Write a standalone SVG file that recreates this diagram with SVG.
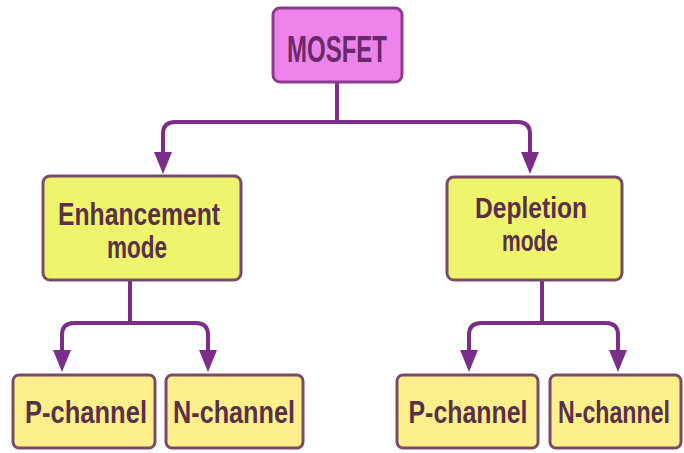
<svg xmlns="http://www.w3.org/2000/svg" width="684" height="453" viewBox="0 0 684 453">
<style>
.bg{fill:#ffffff}
.top{fill:#ec84ec;stroke:#8c3c8c;stroke-width:3}
.mid{fill:#eef46c;stroke:#7a4a6a;stroke-width:3}
.leaf{fill:#fdf08c;stroke:#7a4a6a;stroke-width:3}
.t{font-family:"Liberation Sans",Arial,sans-serif;font-weight:bold;text-anchor:middle;fill:#5a3048}
.tt{fill:#6a2a6a}
.c{fill:none;stroke:#7a2e8a;stroke-width:4}
</style>
<defs>
<marker id="ah" viewBox="0 -10 24 20" markerWidth="24" markerHeight="20" refX="2" refY="0" orient="auto" markerUnits="userSpaceOnUse">
<path d="M0,-9 L22,0 L0,9 z" fill="#7a2e8a"/>
</marker>
</defs>
<rect class="bg" x="0" y="0" width="684" height="453"/>
<g id="connectors">
<path class="c" d="M337,82 V122"/>
<path class="c" d="M339,122 H175 Q163,122 163,134 V154" marker-end="url(#ah)"/>
<path class="c" d="M335,122 H518 Q530,122 530,134 V154" marker-end="url(#ah)"/>
<path class="c" d="M130,280 V323"/>
<path class="c" d="M132,323 H74 Q62,323 62,335 V352" marker-end="url(#ah)"/>
<path class="c" d="M128,323 H196 Q208,323 208,335 V352" marker-end="url(#ah)"/>
<path class="c" d="M542,280 V323"/>
<path class="c" d="M544,323 H481 Q469,323 469,335 V352" marker-end="url(#ah)"/>
<path class="c" d="M540,323 H606 Q618,323 618,335 V352" marker-end="url(#ah)"/>
</g>
<g id="mosfet">
<rect class="top" x="273" y="8" width="129" height="74" rx="7"/>
<text class="t tt" x="337" y="62" font-size="36" textLength="100" lengthAdjust="spacingAndGlyphs">MOSFET</text>
</g>
<g id="enhancement">
<rect class="mid" x="43" y="176" width="198" height="104" rx="7"/>
<text class="t" x="139" y="225" font-size="32" textLength="162" lengthAdjust="spacingAndGlyphs">Enhancement</text>
<text class="t" x="137" y="258" font-size="32" textLength="60" lengthAdjust="spacingAndGlyphs">mode</text>
</g>
<g id="depletion">
<rect class="mid" x="447" y="177" width="175" height="103" rx="7"/>
<text class="t" x="531" y="218" font-size="30" textLength="112" lengthAdjust="spacingAndGlyphs">Depletion</text>
<text class="t" x="530" y="251" font-size="30" textLength="56" lengthAdjust="spacingAndGlyphs">mode</text>
</g>
<g id="enh-p">
<rect class="leaf" x="13" y="375" width="142" height="73" rx="6"/>
<text class="t" x="86" y="423" font-size="31" textLength="122" lengthAdjust="spacingAndGlyphs">P-channel</text>
</g>
<g id="enh-n">
<rect class="leaf" x="166" y="375" width="137" height="73" rx="6"/>
<text class="t" x="234" y="423" font-size="31" textLength="122" lengthAdjust="spacingAndGlyphs">N-channel</text>
</g>
<g id="dep-p">
<rect class="leaf" x="397" y="375" width="141" height="73" rx="6"/>
<text class="t" x="468" y="423" font-size="31" textLength="119" lengthAdjust="spacingAndGlyphs">P-channel</text>
</g>
<g id="dep-n">
<rect class="leaf" x="550" y="375" width="131" height="73" rx="6"/>
<text class="t" x="614" y="423" font-size="31" textLength="112" lengthAdjust="spacingAndGlyphs">N-channel</text>
</g>
</svg>
